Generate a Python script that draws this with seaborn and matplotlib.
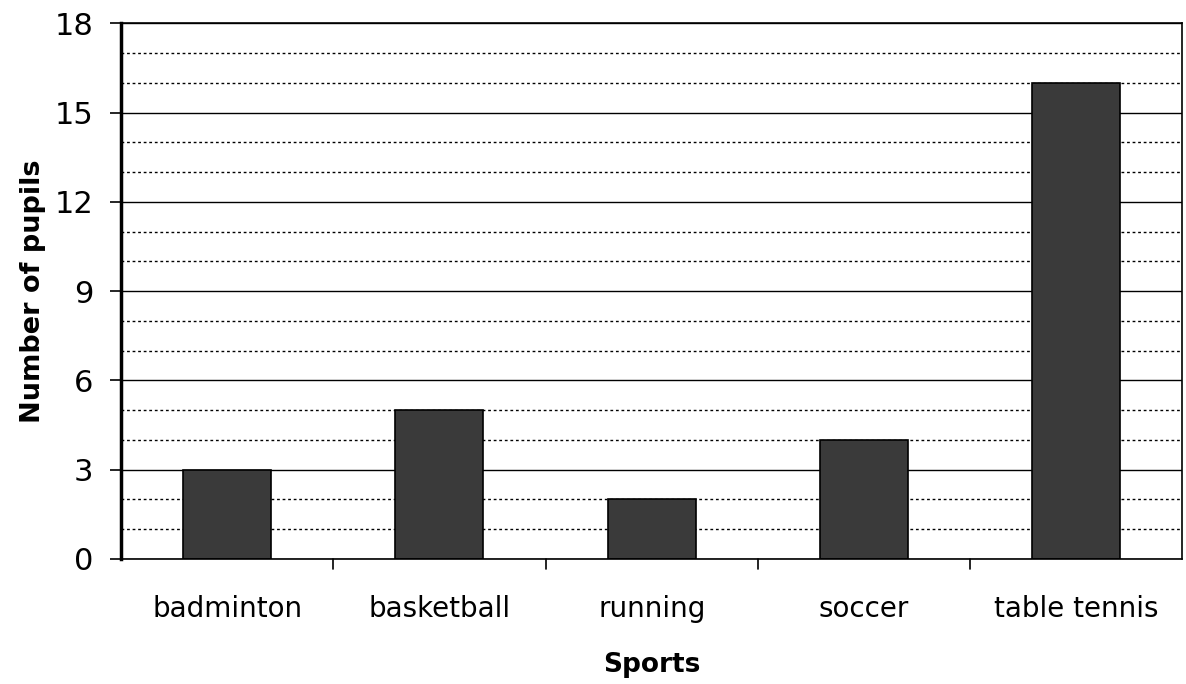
import matplotlib
matplotlib.use("Agg")
import matplotlib.pyplot as plt
import seaborn as sns
import pandas as pd

sports = ["badminton", "basketball", "running", "soccer", "table tennis"]
pupils = [3, 5, 2, 4, 16]
y_ticks = [0, 3, 6, 9, 12, 15, 18]

sns.set_style("white")
plt.rcParams["font.family"] = ["DejaVu Sans"]
plt.rcParams["text.color"] = "black"
plt.rcParams["axes.labelcolor"] = "black"
plt.rcParams["xtick.color"] = "black"
plt.rcParams["ytick.color"] = "black"

df = pd.DataFrame({"Sports": sports, "Number of pupils": pupils})

fig = plt.figure(figsize=(11.86, 6.84), dpi=100)
ax = fig.add_axes([0.102, 0.183, 0.895, 0.783])

# dotted grid every 1, solid grid every 3
for v in range(0, 19):
    if v % 3 == 0:
        ax.axhline(v, color="black", lw=1.0, zorder=0)
    else:
        ax.axhline(v, color="black", lw=1.0, ls=(0, (2, 2)), zorder=0)

sns.barplot(data=df, x="Sports", y="Number of pupils", color="#3a3a3a",
            width=0.415, edgecolor="black", linewidth=1.2, saturation=1,
            ax=ax, zorder=2)

ax.set_ylim(0, 18)
ax.set_xlim(-0.5, len(sports) - 0.5)
ax.set_yticks(y_ticks)
ax.tick_params(axis="y", labelsize=22, length=8, width=1.2, pad=12,
               direction="out", left=True)
ax.tick_params(axis="x", labelsize=20, length=0, pad=26)

# tick marks between categories
for i in range(len(sports) - 1):
    ax.plot([i + 0.5, i + 0.5], [0, -0.35], color="black", lw=1.2, clip_on=False)

for s in ["left", "right", "top", "bottom"]:
    ax.spines[s].set_visible(True)
    ax.spines[s].set_color("black")
    ax.spines[s].set_linewidth(1.2)
ax.spines["left"].set_linewidth(2.5)

ax.set_xlabel("Sports", fontsize=19, fontweight="bold", labelpad=21)
ax.set_ylabel("Number of pupils", fontsize=19.5, fontweight="bold")
ax.yaxis.set_label_coords(-0.071, 0.5)

fig.savefig("out.png", dpi=100)
